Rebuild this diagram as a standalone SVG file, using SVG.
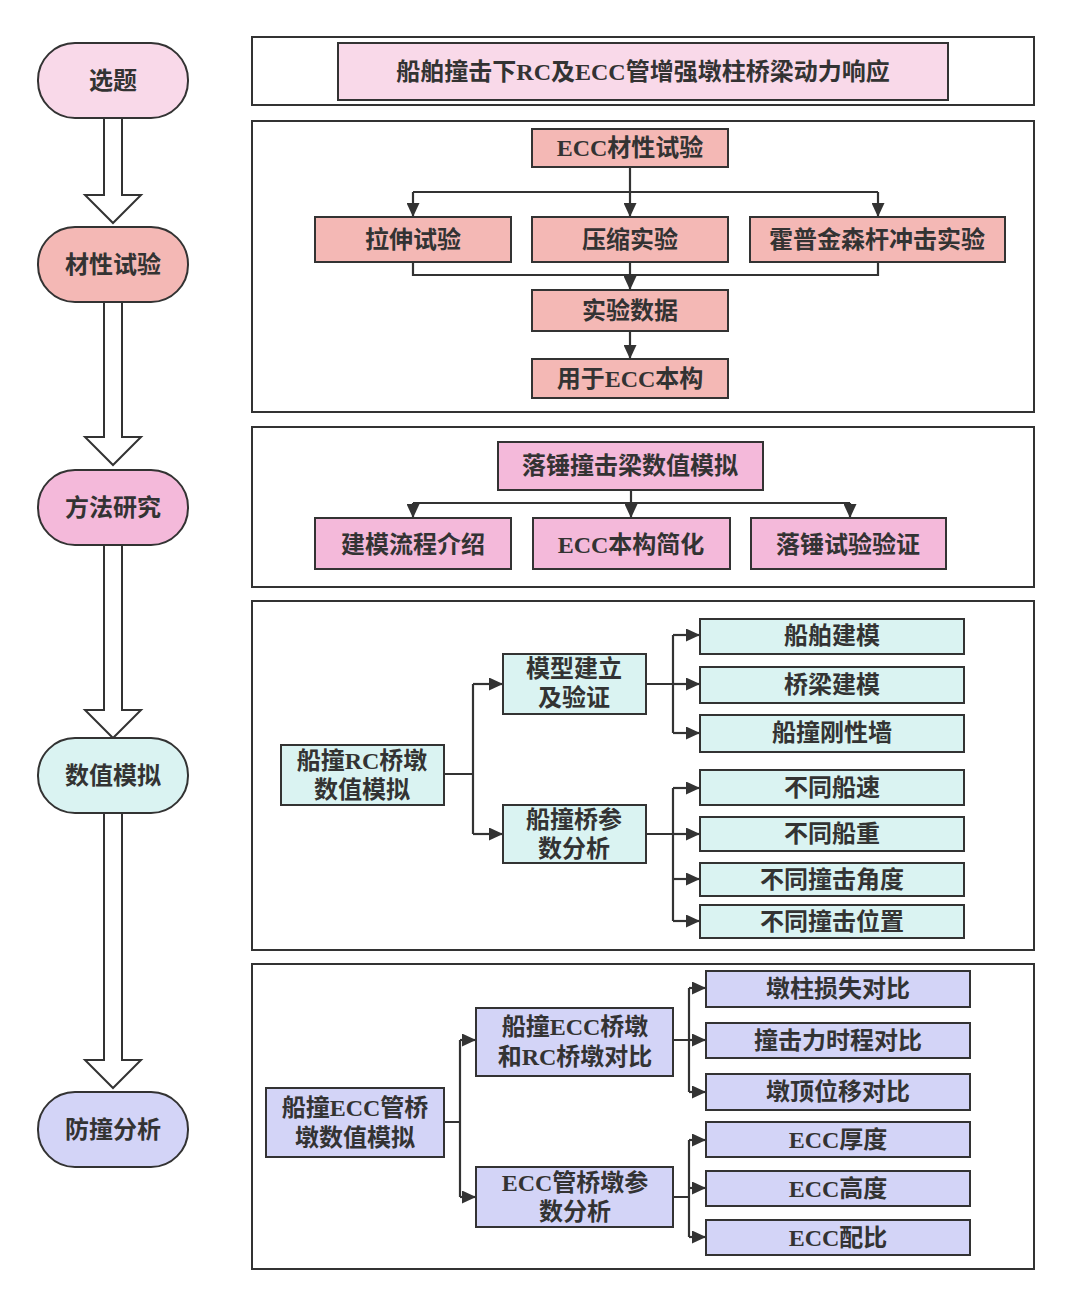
<svg xmlns="http://www.w3.org/2000/svg" width="1071" height="1306" viewBox="0 0 1071 1306">
<defs>
<marker id="ah" markerUnits="userSpaceOnUse" markerWidth="14" markerHeight="13" viewBox="0 0 14 13" refX="14" refY="6.5" orient="auto">
<path d="M0,0 L14,6.5 L0,13 z" fill="#333"/>
</marker>
<style>
text{font-family:"Liberation Serif","Noto Sans CJK SC",serif;font-size:24px;fill:#333;text-anchor:middle;dominant-baseline:central;font-weight:bold}
.panel{fill:#fff;stroke:#333;stroke-width:2}
.box{stroke:#333;stroke-width:2}
.c{fill:none;stroke:#333;stroke-width:2.2}
.a{fill:none;stroke:#333;stroke-width:2.2;marker-end:url(#ah)}
.big{fill:#fff;stroke:#333;stroke-width:2;stroke-linejoin:miter}
.p1{fill:#f9d9e9}.p2{fill:#f4b8b5}.p3{fill:#f4b9da}.p4{fill:#daf3f2}.p5{fill:#d3d4f7}
</style>
</defs>
<rect width="1071" height="1306" fill="#fff"/>

<g id="bigArrows">
<polygon class="big" points="104,117 122,117 122,195 141,195 113,223 85,195 104,195"/>
<polygon class="big" points="104,301 122,301 122,437 141,437 113,465 85,437 104,437"/>
<polygon class="big" points="104,544 122,544 122,710 141,710 113,738 85,710 104,710"/>
<polygon class="big" points="104,812 122,812 122,1060 141,1060 113,1088 85,1060 104,1060"/>
</g>

<g id="pill-xuanti"><rect x="38" y="43" width="150" height="75" rx="37" class="box p1"/><text x="113" y="81">选题</text></g>
<g id="pill-caixing"><rect x="38" y="227" width="150" height="75" rx="37" class="box p2"/><text x="113" y="265">材性试验</text></g>
<g id="pill-fangfa"><rect x="38" y="470" width="150" height="75" rx="37" class="box p3"/><text x="113" y="508">方法研究</text></g>
<g id="pill-shuzhi"><rect x="38" y="738" width="150" height="75" rx="37" class="box p4"/><text x="113" y="776">数值模拟</text></g>
<g id="pill-fangzhuang"><rect x="38" y="1092" width="150" height="75" rx="37" class="box p5"/><text x="113" y="1130">防撞分析</text></g>

<g id="panels">
<rect class="panel" x="252" y="37" width="782" height="68"/>
<rect class="panel" x="252" y="121" width="782" height="291"/>
<rect class="panel" x="252" y="427" width="782" height="160"/>
<rect class="panel" x="252" y="601" width="782" height="349"/>
<rect class="panel" x="252" y="964" width="782" height="305"/>
</g>

<g id="title"><rect class="box p1" x="338" y="43" width="610" height="57"/><text x="643" y="72">船舶撞击下RC及ECC管增强墩柱桥梁动力响应</text></g>

<g id="connectors">
<path class="c" d="M630,167 V192 M413,192 H878"/>
<path class="a" d="M413,192 V217"/>
<path class="a" d="M630,192 V217"/>
<path class="a" d="M878,192 V217"/>
<path class="c" d="M413,262 V275 H878 V262"/>
<path class="a" d="M630,262 V290"/>
<path class="a" d="M630,330 V359"/>

<path class="c" d="M631,490 V503 M413,503 H850"/>
<path class="a" d="M413,503 V518"/>
<path class="a" d="M631,503 V518"/>
<path class="a" d="M850,503 V518"/>

<path class="c" d="M444,774 H473 M473,684 V834"/>
<path class="a" d="M473,684 H503"/>
<path class="a" d="M473,834 H503"/>
<path class="c" d="M646,684 H673 M673,635 V733"/>
<path class="a" d="M673,635 H700"/>
<path class="a" d="M673,684 H700"/>
<path class="a" d="M673,733 H700"/>
<path class="c" d="M646,834 H673 M673,788 V921"/>
<path class="a" d="M673,788 H700"/>
<path class="a" d="M673,834 H700"/>
<path class="a" d="M673,879 H700"/>
<path class="a" d="M673,921 H700"/>

<path class="c" d="M444,1122 H460 M460,1040 V1197"/>
<path class="a" d="M460,1040 H476"/>
<path class="a" d="M460,1197 H476"/>
<path class="c" d="M673,1040 H689 M689,988 V1092"/>
<path class="a" d="M689,988 H706"/>
<path class="a" d="M689,1040 H706"/>
<path class="a" d="M689,1092 H706"/>
<path class="c" d="M673,1197 H689 M689,1140 V1237"/>
<path class="a" d="M689,1140 H706"/>
<path class="a" d="M689,1188 H706"/>
<path class="a" d="M689,1237 H706"/>
</g>

<g id="n-ecc"><rect class="box p2" x="532" y="129" width="196" height="38"/><text x="630" y="148">ECC材性试验</text></g>
<g id="n-lashen"><rect class="box p2" x="315" y="217" width="196" height="45"/><text x="413" y="240">拉伸试验</text></g>
<g id="n-yasuo"><rect class="box p2" x="532" y="217" width="196" height="45"/><text x="630" y="240">压缩实验</text></g>
<g id="n-huopu"><rect class="box p2" x="750" y="217" width="255" height="45"/><text x="877" y="240">霍普金森杆冲击实验</text></g>
<g id="n-shuju"><rect class="box p2" x="532" y="290" width="196" height="41"/><text x="630" y="311">实验数据</text></g>
<g id="n-yongyu"><rect class="box p2" x="532" y="359" width="196" height="39"/><text x="630" y="379">用于ECC本构</text></g>

<g id="n-luochui"><rect class="box p3" x="498" y="442" width="265" height="48"/><text x="630" y="466">落锤撞击梁数值模拟</text></g>
<g id="n-jianmo"><rect class="box p3" x="315" y="518" width="196" height="51"/><text x="413" y="545">建模流程介绍</text></g>
<g id="n-benggou"><rect class="box p3" x="533" y="518" width="197" height="51"/><text x="631" y="545">ECC本构简化</text></g>
<g id="n-yanzheng"><rect class="box p3" x="751" y="518" width="195" height="51"/><text x="848" y="545">落锤试验验证</text></g>

<g id="n-rc"><rect class="box p4" x="281" y="745" width="163" height="60"/><text x="362" y="761">船撞RC桥墩</text><text x="362" y="790">数值模拟</text></g>
<g id="n-moxing"><rect class="box p4" x="503" y="654" width="143" height="60"/><text x="574" y="669">模型建立</text><text x="574" y="698">及验证</text></g>
<g id="n-canshu"><rect class="box p4" x="503" y="805" width="143" height="58"/><text x="574" y="820">船撞桥参</text><text x="574" y="849">数分析</text></g>
<g id="n-chuanbo"><rect class="box p4" x="700" y="619" width="264" height="35"/><text x="832" y="636">船舶建模</text></g>
<g id="n-qiaoliang"><rect class="box p4" x="700" y="667" width="264" height="36"/><text x="832" y="685">桥梁建模</text></g>
<g id="n-gangxing"><rect class="box p4" x="700" y="715" width="264" height="37"/><text x="832" y="733">船撞刚性墙</text></g>
<g id="n-chuansu"><rect class="box p4" x="700" y="770" width="264" height="35"/><text x="832" y="788">不同船速</text></g>
<g id="n-chuanzhong"><rect class="box p4" x="700" y="817" width="264" height="34"/><text x="832" y="834">不同船重</text></g>
<g id="n-jiaodu"><rect class="box p4" x="700" y="863" width="264" height="33"/><text x="832" y="880">不同撞击角度</text></g>
<g id="n-weizhi"><rect class="box p4" x="700" y="905" width="264" height="33"/><text x="832" y="922">不同撞击位置</text></g>

<g id="n-eccsim"><rect class="box p5" x="266" y="1088" width="178" height="69"/><text x="355" y="1108">船撞ECC管桥</text><text x="355" y="1138">墩数值模拟</text></g>
<g id="n-duibi"><rect class="box p5" x="476" y="1008" width="197" height="68"/><text x="575" y="1027">船撞ECC桥墩</text><text x="575" y="1057">和RC桥墩对比</text></g>
<g id="n-eccpar"><rect class="box p5" x="476" y="1167" width="197" height="60"/><text x="575" y="1183">ECC管桥墩参</text><text x="575" y="1212">数分析</text></g>
<g id="n-sunshi"><rect class="box p5" x="706" y="971" width="264" height="36"/><text x="838" y="989">墩柱损失对比</text></g>
<g id="n-shicheng"><rect class="box p5" x="706" y="1023" width="264" height="35"/><text x="838" y="1041">撞击力时程对比</text></g>
<g id="n-weiyi"><rect class="box p5" x="706" y="1074" width="264" height="36"/><text x="838" y="1092">墩顶位移对比</text></g>
<g id="n-houdu"><rect class="box p5" x="706" y="1122" width="264" height="35"/><text x="838" y="1140">ECC厚度</text></g>
<g id="n-gaodu"><rect class="box p5" x="706" y="1171" width="264" height="35"/><text x="838" y="1189">ECC高度</text></g>
<g id="n-peibi"><rect class="box p5" x="706" y="1220" width="264" height="35"/><text x="838" y="1238">ECC配比</text></g>
</svg>
